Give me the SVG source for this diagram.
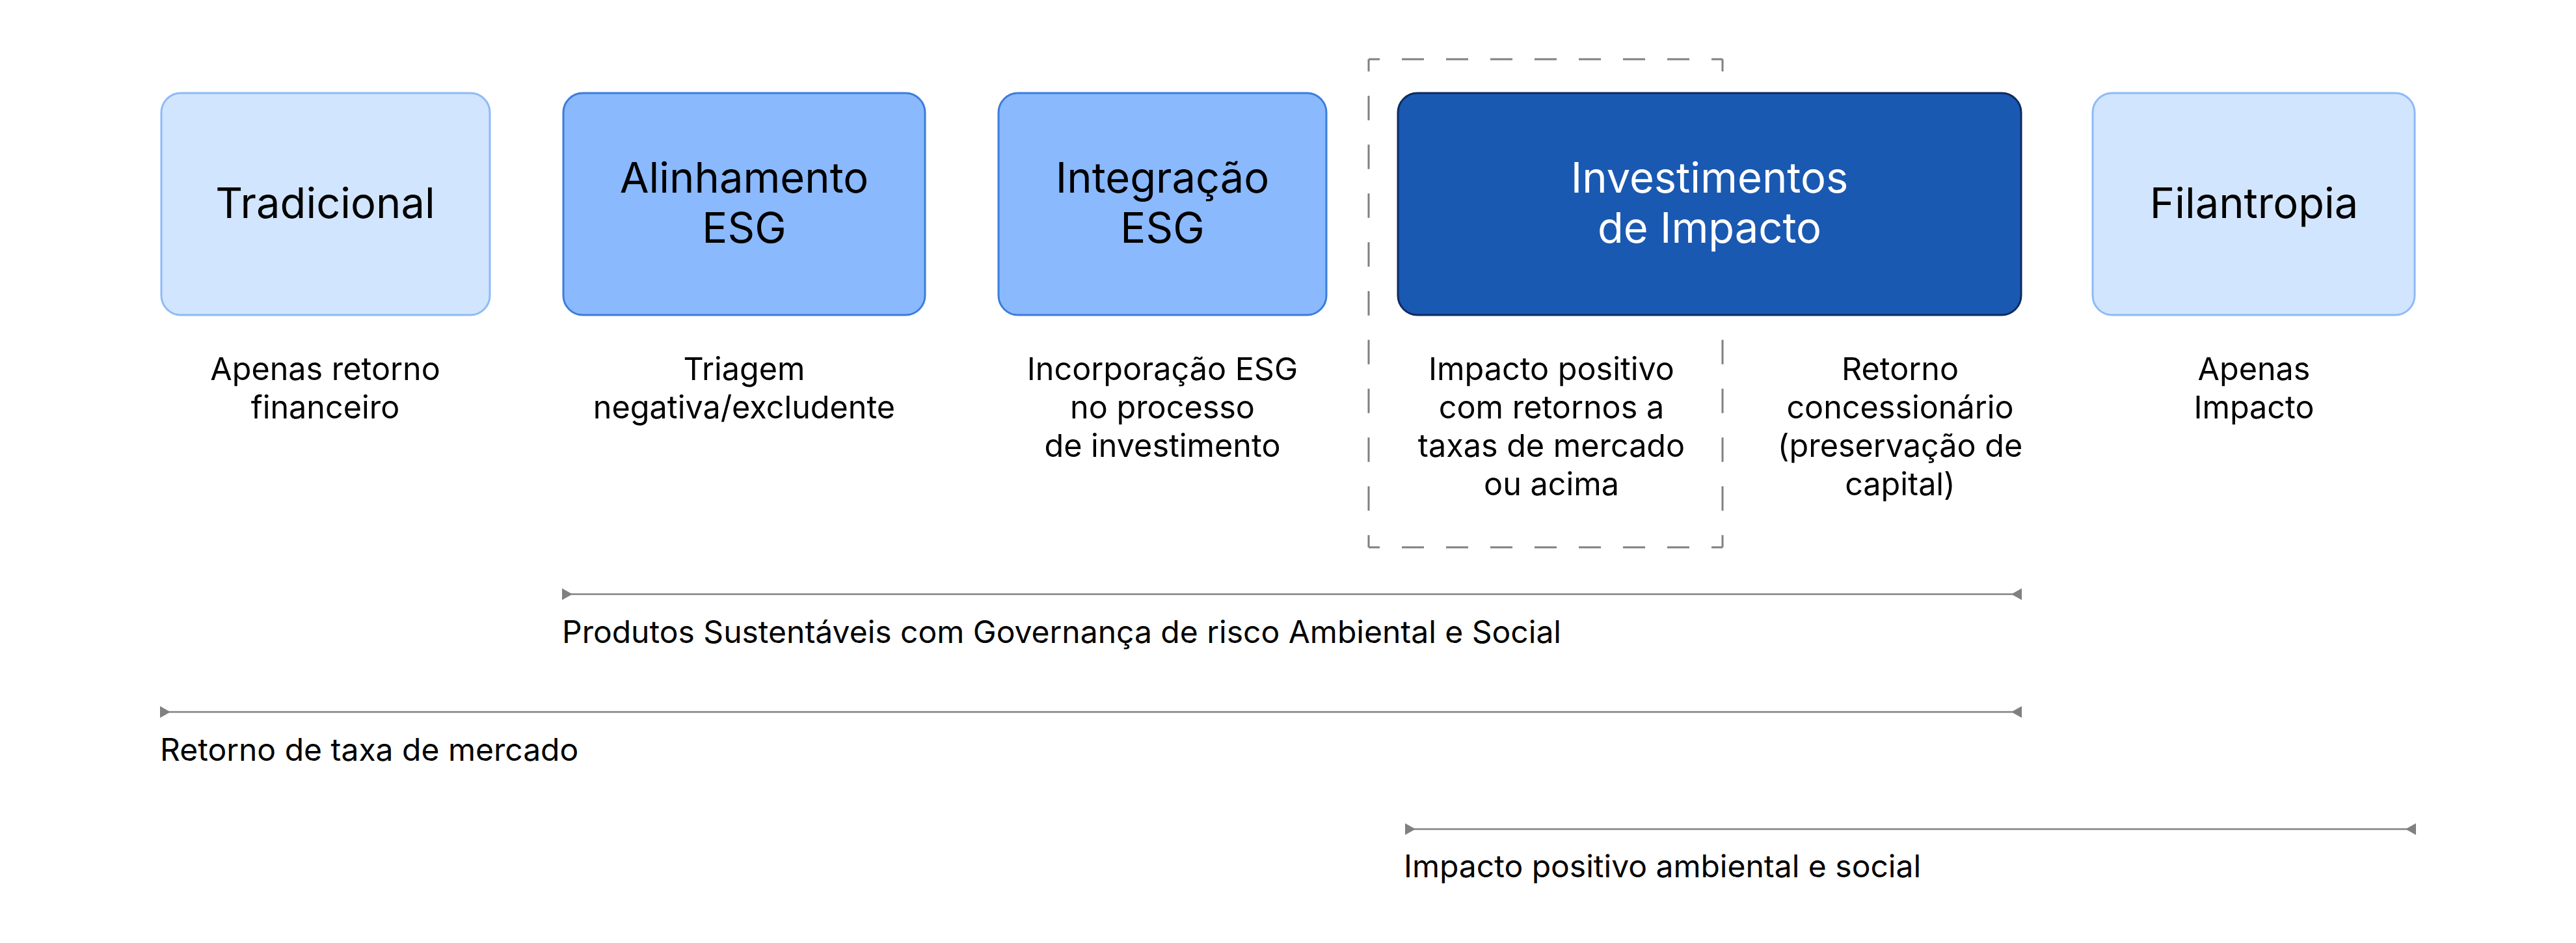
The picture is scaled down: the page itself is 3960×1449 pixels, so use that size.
<svg xmlns="http://www.w3.org/2000/svg" width="3960" height="1449" viewBox="0 0 3960 1449">
  <style>
    .box-light { fill: #D2E5FE; stroke: #8DBAF8; stroke-width: 3; }
    .box-mid { fill: #8AB9FD; stroke: #3A7DDC; stroke-width: 3; }
    .box-dark { fill: #1A59B2; stroke: #0D2B5E; stroke-width: 3; }
    .title { font-family: Inter, "Liberation Sans", sans-serif; font-size: 65px; text-anchor: middle; fill: #000; }
    .title-w { font-family: Inter, "Liberation Sans", sans-serif; font-size: 65px; text-anchor: middle; fill: #FFFFFF; }
    .desc { font-family: Inter, "Liberation Sans", sans-serif; font-size: 48.5px; text-anchor: middle; fill: #000; }
    .label { font-family: Inter, "Liberation Sans", sans-serif; font-size: 48px; fill: #000; }
    .range { stroke: #808080; stroke-width: 2.5; fill: none; marker-start: url(#triStart); marker-end: url(#triEnd); }
    .dash { stroke: #808080; stroke-width: 3; fill: none; }
  </style>
  <defs>
    <marker id="triStart" markerUnits="userSpaceOnUse" markerWidth="16" markerHeight="18" refX="0" refY="9" orient="auto">
      <path d="M0,0 L16,9 L0,18 Z" fill="#808080"/>
    </marker>
    <marker id="triEnd" markerUnits="userSpaceOnUse" markerWidth="16" markerHeight="18" refX="16" refY="9" orient="auto">
      <path d="M16,0 L0,9 L16,18 Z" fill="#808080"/>
    </marker>
  </defs>
  <rect width="3960" height="1449" fill="#FFFFFF"/>

  <g id="dashed-frame">
    <line class="dash" x1="2104" y1="91" x2="2648" y2="91" stroke-dasharray="34 34" stroke-dashoffset="17"/>
    <line class="dash" x1="2104" y1="841" x2="2648" y2="841" stroke-dasharray="34 34" stroke-dashoffset="17"/>
    <line class="dash" x1="2104" y1="91" x2="2104" y2="841" stroke-dasharray="37.5 37.5" stroke-dashoffset="18.75"/>
    <line class="dash" x1="2648" y1="91" x2="2648" y2="841" stroke-dasharray="37.5 37.5" stroke-dashoffset="18.75"/>
  </g>

  <g id="tradicional">
    <rect class="box-light" x="248" y="143" width="505" height="341" rx="30"/>
    <text class="title" x="500" y="335">Tradicional</text>
    <text class="desc" x="500" y="584">Apenas retorno</text>
    <text class="desc" x="500" y="643">financeiro</text>
  </g>

  <g id="alinhamento">
    <rect class="box-mid" x="866" y="143" width="556" height="341" rx="30"/>
    <text class="title" x="1144" y="296">Alinhamento</text>
    <text class="title" x="1144" y="373">ESG</text>
    <text class="desc" x="1144" y="584">Triagem</text>
    <text class="desc" x="1144" y="643">negativa/excludente</text>
  </g>

  <g id="integracao">
    <rect class="box-mid" x="1535" y="143" width="504" height="341" rx="30"/>
    <text class="title" x="1787" y="296">Integração</text>
    <text class="title" x="1787" y="373">ESG</text>
    <text class="desc" x="1787" y="584">Incorporação ESG</text>
    <text class="desc" x="1787" y="643">no processo</text>
    <text class="desc" x="1787" y="702">de investimento</text>
  </g>

  <g id="impacto">
    <rect class="box-dark" x="2149" y="143" width="958" height="341" rx="30"/>
    <text class="title-w" x="2628" y="296">Investimentos</text>
    <text class="title-w" x="2628" y="373">de Impacto</text>
    <text class="desc" x="2385" y="584">Impacto positivo</text>
    <text class="desc" x="2385" y="643">com retornos a</text>
    <text class="desc" x="2385" y="702">taxas de mercado</text>
    <text class="desc" x="2385" y="761">ou acima</text>
    <text class="desc" x="2921" y="584">Retorno</text>
    <text class="desc" x="2921" y="643">concessionário</text>
    <text class="desc" x="2921" y="702">(preservação de</text>
    <text class="desc" x="2921" y="761">capital)</text>
  </g>

  <g id="filantropia">
    <rect class="box-light" x="3217" y="143" width="495" height="341" rx="30"/>
    <text class="title" x="3465" y="335">Filantropia</text>
    <text class="desc" x="3465" y="584">Apenas</text>
    <text class="desc" x="3465" y="643">Impacto</text>
  </g>

  <g id="connectors">
    <line class="range" x1="864" y1="913" x2="3108" y2="913"/>
    <line class="range" x1="246" y1="1094" x2="3108" y2="1094"/>
    <line class="range" x1="2160" y1="1274" x2="3714" y2="1274"/>
  </g>

  <g id="range-labels">
    <text class="label" x="864" y="988">Produtos Sustentáveis com Governança de risco Ambiental e Social</text>
    <text class="label" x="246" y="1169">Retorno de taxa de mercado</text>
    <text class="label" x="2158" y="1348">Impacto positivo ambiental e social</text>
  </g>
</svg>
